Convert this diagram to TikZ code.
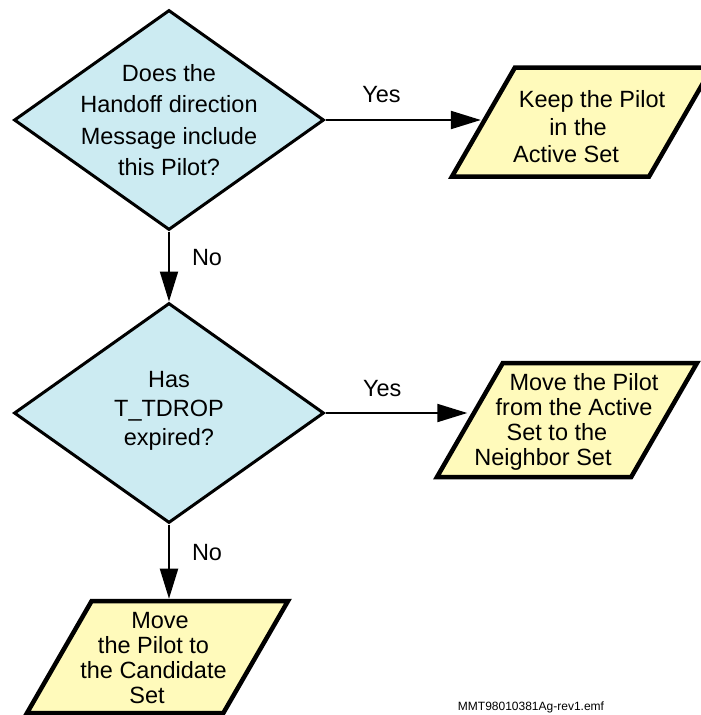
\documentclass[tikz,border=0pt]{standalone}
\usepackage{fontspec}
\setmainfont{Liberation Sans}
\usepackage{tikz}
\usetikzlibrary{arrows.meta,shapes.geometric,positioning}
\definecolor{askfill}{RGB}{204,235,242}
\definecolor{actfill}{RGB}{255,250,187}

\tikzset{
  decision/.style={diamond, draw, line width=3pt, fill=askfill, inner sep=0pt,
    minimum width=310pt, minimum height=220pt},
  action/.style={trapezium, trapezium left angle=60, trapezium right angle=120,
    trapezium stretches body, draw, line width=4.5pt, fill=actfill, inner sep=0pt,
    text height=112pt, text depth=0pt, minimum width=260pt},
  words/.style={align=center, inner sep=0pt, font=\fontsize{23.5}{31.5}\selectfont},
  flow/.style={line width=2pt, -{Triangle[length=30pt,width=18pt]}},
  answer/.style={inner sep=0pt, font=\fontsize{23.5}{28}\selectfont},
}

\begin{document}
\begin{tikzpicture}[x=1pt, y=-1pt]
    \useasboundingbox (0,0) rectangle (701,715);

    % questions
    \node[decision, label={[words]center:{Does the\\Handoff direction\\Message include\\this Pilot?}}]
      (inset) at (169,120) {};
    \node[decision, label={[words, yshift=2pt, font=\fontsize{23.5}{29}\selectfont]center:{Has\\T\_TDROP\\expired?}}]
      (expired) at (169,413) {};

    % what happens to the pilot (lines follow the slant)
    \node[action, text height=109pt,
      label={[words, yshift=-5pt, xshift=-4pt, font=\fontsize{23.5}{27.5}\selectfont]center:{\hspace*{28pt}Keep the Pilot\\in the\\\hspace*{-24pt}Active Set}}]
      (keep) at (582,122) {};
    \node[action, text height=114pt,
      label={[words, yshift=-2pt, xshift=-3pt, font=\fontsize{23.5}{25}\selectfont]center:{\hspace*{40pt}Move the Pilot\\\hspace*{20pt}from the Active\\\hspace*{-14pt}Set to the\\\hspace*{-42pt}Neighbor Set}}]
      (moveN) at (567,420) {};
    \node[action, minimum width=261pt,
      label={[words, yshift=-1pt, xshift=-4pt, font=\fontsize{23.5}{25}\selectfont]center:{\hspace*{13pt}Move\\the Pilot to\\the Candidate\\\hspace*{-13pt}Set}}]
      (moveC) at (157.5,657) {};

    \draw[flow] (inset.east) -- (inset.east -| keep.west)
      node[answer, pos=0.36, above=16.5pt] {Yes};
    \draw[flow] (expired.east) -- (expired.east -| moveN.west)
      node[answer, pos=0.40, above=15pt] {Yes};
    \draw[flow] (inset.south) -- (expired.north)
      node[answer, pos=0.37, right=22pt] {No};
    \draw[flow] (expired.south) -- (expired.south |- moveC.north)
      node[answer, pos=0.38, right=22pt] {No};

    \node[font=\fontsize{12}{14}\selectfont] (emf) at (531,707) {MMT98010381Ag-rev1.emf};
\end{tikzpicture}
\end{document}
